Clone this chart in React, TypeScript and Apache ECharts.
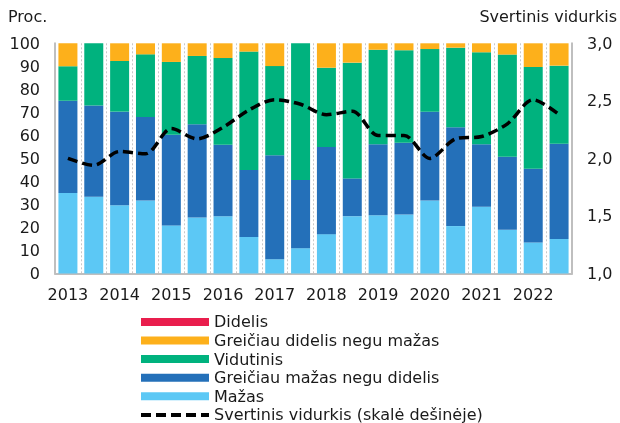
import React, { useEffect, useRef } from 'react';
import * as echarts from 'echarts';

const periods = [
  '2013 I', '2013 II', '2014 I', '2014 II', '2015 I', '2015 II', '2016 I', '2016 II', '2017 I', '2017 II',
  '2018 I', '2018 II', '2019 I', '2019 II', '2020 I', '2020 II', '2021 I', '2021 II', '2022 I', '2022 II',
];
const mazas = [35, 33.3, 29.6, 31.7, 20.9, 24.3, 24.9, 15.9, 6.2, 11, 17.1, 24.9, 25.3, 25.6, 31.7, 20.6, 29, 19, 13.5, 15];
const greiciauMazas = [40, 39.7, 40.7, 36.3, 39.4, 40.5, 31, 29.1, 45.2, 29.6, 37.9, 16.4, 30.8, 31.2, 38.6, 42.9, 27.1, 31.7, 32, 41.4];
const vidutinis = [15, 27, 22, 27.2, 31.6, 29.7, 37.7, 51.4, 38.7, 59.4, 34.4, 50.3, 41.1, 40.2, 27.2, 34.6, 40, 44.4, 44.2, 33.9];
const greiciauDidelis = [10, 0, 7.7, 4.8, 8.1, 5.5, 6.4, 3.6, 9.9, 0, 10.6, 8.4, 2.8, 3, 2.5, 1.9, 3.9, 4.9, 10.3, 9.7];
const didelis = [0, 0, 0, 0, 0, 0, 0, 0, 0, 0, 0, 0, 0, 0, 0, 0, 0, 0, 0, 0];
const vidurkis = [2.0, 1.94, 2.06, 2.04, 2.26, 2.17, 2.27, 2.42, 2.51, 2.47, 2.38, 2.41, 2.2, 2.2, 2.0, 2.17, 2.19, 2.3, 2.51, 2.38];

const names = {
  didelis: 'Didelis',
  gd: 'Greičiau didelis negu mažas',
  vid: 'Vidutinis',
  gm: 'Greičiau mažas negu didelis',
  maz: 'Mažas',
  line: 'Svertinis vidurkis (skalė dešinėje)',
};

const FONT = 'DejaVu Sans';
const TXT = '#1a1a1a';
const AXIS = '#bfbfbf';
const FS = 16;

export default function App() {
  const ref = useRef<HTMLDivElement>(null);
  useEffect(() => {
    if (!ref.current) return;
    const chart = echarts.init(ref.current, undefined, { renderer: 'svg' });
    const bar = (name: string, data: number[], color: string) => ({
      name,
      type: 'bar',
      stack: 'a',
      data,
      barWidth: 19,
      itemStyle: { color },
      emphasis: { disabled: true },
    });
    const dash = { color: '#000', width: 4, type: [10, 5] as number[] };
    chart.setOption({
      animation: false,
      textStyle: { fontFamily: FONT },
      grid: { left: 55, right: 48, top: 43.3, bottom: 149.5 },
      graphic: [
        { type: 'text', left: 8, top: 8.5, style: { text: 'Proc.', font: `${FS}px "${FONT}"`, fill: TXT } },
        { type: 'text', right: 3, top: 8.5, style: { text: 'Svertinis vidurkis', font: `${FS}px "${FONT}"`, fill: TXT } },
      ],
      legend: {
        orient: 'vertical',
        left: 139,
        top: 313.9,
        height: 120,
        padding: 0,
        itemWidth: 68,
        itemHeight: 8,
        itemGap: 2.6,
        selectedMode: false,
        textStyle: { fontSize: FS, color: TXT, lineHeight: 16, fontFamily: FONT },
        data: [
          { name: names.didelis, icon: 'rect' },
          { name: names.gd, icon: 'rect' },
          { name: names.vid, icon: 'rect' },
          { name: names.gm, icon: 'rect' },
          { name: names.maz, icon: 'rect' },
          { name: names.line, itemStyle: { opacity: 0 }, lineStyle: dash },
        ],
      },
      xAxis: {
        type: 'category',
        data: periods,
        boundaryGap: true,
        axisLine: { lineStyle: { color: AXIS, width: 2 } },
        axisTick: { show: false },
        splitLine: { show: true, interval: 0, lineStyle: { color: '#c8c8c8', type: [2, 2], width: 1 } },
        axisLabel: {
          interval: 0,
          margin: 13,
          fontSize: FS,
          fontFamily: FONT,
          color: TXT,
          formatter: (v: string) => (v.endsWith(' I') ? v.slice(0, 4) : ''),
        },
      },
      yAxis: [
        {
          type: 'value',
          min: 0,
          max: 100,
          interval: 10,
          axisLine: { show: true, lineStyle: { color: AXIS, width: 2 } },
          axisTick: { show: false },
          splitLine: { show: false },
          axisLabel: { fontSize: FS, fontFamily: FONT, color: TXT, margin: 15 },
        },
        {
          type: 'value',
          min: 1,
          max: 3,
          interval: 0.5,
          position: 'right',
          axisLine: { show: true, lineStyle: { color: AXIS, width: 2 } },
          axisTick: { show: false },
          splitLine: { show: false },
          axisLabel: {
            fontSize: FS,
            fontFamily: FONT,
            color: TXT,
            margin: 15,
            formatter: (v: number) => v.toFixed(1).replace('.', ','),
          },
        },
      ],
      series: [
        bar(names.maz, mazas, '#5cc8f5'),
        bar(names.gm, greiciauMazas, '#2470b9'),
        bar(names.vid, vidutinis, '#00b27e'),
        bar(names.gd, greiciauDidelis, '#fdb01b'),
        bar(names.didelis, didelis, '#e91e4d'),
        {
          name: names.line,
          type: 'line',
          yAxisIndex: 1,
          data: vidurkis,
          smooth: 0.3,
          symbol: 'none',
          itemStyle: { color: '#000' },
          lineStyle: { color: '#000', width: 3.5, type: [10, 5] },
          emphasis: { disabled: true },
          z: 5,
        },
      ],
    });
    return () => chart.dispose();
  }, []);
  return <div ref={ref} style={{ position: 'fixed', left: 0, top: 0, width: 620, height: 423 }} />;
}
